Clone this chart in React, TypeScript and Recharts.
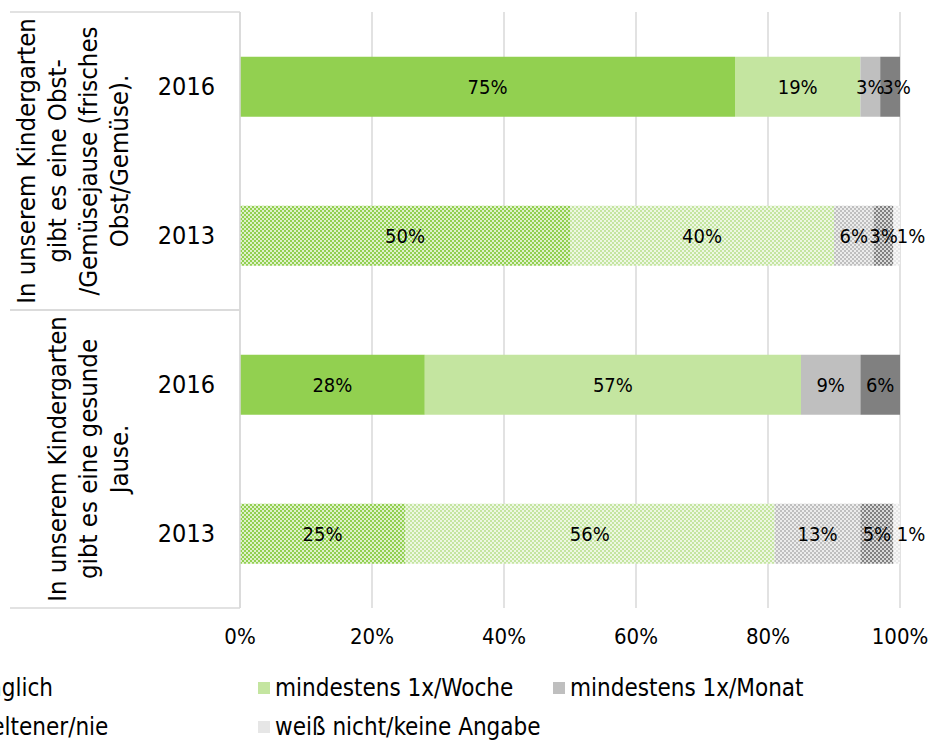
import React from 'react';
import { BarChart, Bar, XAxis, YAxis, CartesianGrid, Legend, LabelList, Cell } from 'recharts';

// rows, top to bottom
const groupIds = ['obst', 'obst', 'jause', 'jause'];
const years = ['2016', '2013', '2016', '2013'];

const groupLines: Record<string, string[]> = {
  obst: ['In unserem Kindergarten', 'gibt es eine Obst-', '/Gemüsejause (frisches', 'Obst/Gemüse).'],
  jause: ['In unserem Kindergarten', 'gibt es eine gesunde', 'Jause.'],
};

const taeglich = [75, 50, 28, 25];
const woche = [19, 40, 57, 56];
const monat = [3, 6, 9, 13];
const seltener = [3, 3, 6, 5];
const weissNicht = [0, 1, 0, 1];

const xTicks = [0, 20, 40, 60, 80, 100];

const series = [
  { key: 'taeglich', name: 'täglich', color: '#92d050', values: taeglich },
  { key: 'woche', name: 'mindestens 1x/Woche', color: '#c4e5a0', values: woche },
  { key: 'monat', name: 'mindestens 1x/Monat', color: '#bfbfbf', values: monat },
  { key: 'seltener', name: 'seltener/nie', color: '#808080', values: seltener },
  { key: 'weiss', name: 'weiß nicht/keine Angabe', color: '#e6e6e6', values: weissNicht },
];

const data = years.map((year, i) => {
  const row: Record<string, string | number> = { id: `${groupIds[i]}|${year}`, year, group: groupIds[i] };
  series.forEach((s) => (row[s.key] = s.values[i]));
  return row;
});

const FONT = "'DejaVu Sans Condensed', 'DejaVu Sans', sans-serif";
const LABEL_SIZE = 20;

function GroupTick(props: any) {
  const { x, y, payload } = props;
  const lines = groupLines[payload.value] || [];
  const half = payload.offset || 149;
  const lastX = x - 31;
  return (
    <g>
      <line x1={x - 140} x2={x + 90} y1={y - half} y2={y - half} stroke="#d9d9d9" strokeWidth={1.5} />
      <line x1={x - 140} x2={x + 90} y1={y + half} y2={y + half} stroke="#d9d9d9" strokeWidth={1.5} />
      {lines.map((line, i) => {
        const cx = lastX - (lines.length - 1 - i) * 31;
        return (
          <text
            key={i}
            x={cx}
            y={y}
            transform={`rotate(-90, ${cx}, ${y})`}
            textAnchor="middle"
            dominantBaseline="central"
            fontSize={25.5}
            fontFamily={FONT}
            fill="#000"
          >
            {line}
          </text>
        );
      })}
    </g>
  );
}

// value label; the last narrow segments of a row are pushed right like the original
function makeLabel(seriesIndex: number) {
  return function SegmentLabel(props: any) {
    const { x, y, width, height, value, index } = props;
    if (!value) return null;
    const row = series.map((s) => s.values[index]);
    const isLast = row.slice(seriesIndex + 1).every((v) => !v);
    const narrow = width < 26;
    let tx = x + width / 2;
    let anchor: 'middle' | 'start' = 'middle';
    if (isLast && narrow && seriesIndex > 1) {
      anchor = 'start';
      tx = seriesIndex === series.length - 1 ? x + width / 2 : x + 2;
    }
    return (
      <text
        x={tx}
        y={y + height / 2}
        textAnchor={anchor}
        dominantBaseline="central"
        fontSize={LABEL_SIZE}
        fontFamily={FONT}
        fill="#000"
      >
        {`${value}%`}
      </text>
    );
  };
}

function LegendContent() {
  const rows = [series.slice(0, 3), series.slice(3)];
  return (
    <div style={{ position: 'relative', width: 928, height: 87, fontFamily: FONT }}>
      {rows.map((row, r) =>
        row.map((s, c) => (
          <div
            key={s.key}
            style={{
              position: 'absolute',
              left: -37 + c * 295,
              top: 20 + r * 39,
              height: 30,
              display: 'flex',
              alignItems: 'center',
              whiteSpace: 'nowrap',
            }}
          >
            <span style={{ width: 12, height: 12, background: s.color, marginRight: 5, display: 'inline-block' }} />
            <span style={{ fontSize: 24, color: '#000' }}>{s.name}</span>
          </div>
        ))
      )}
    </div>
  );
}

export default function App() {
  return (
    <div style={{ position: 'absolute', left: 0, top: 0, width: 928, height: 740, overflow: 'hidden', background: '#fff' }}>
      <svg width={0} height={0} style={{ position: 'absolute' }}>
        <defs>
          {series.map((s) => (
            <pattern key={s.key} id={`pat-${s.key}`} patternUnits="userSpaceOnUse" width={4} height={4}>
              <rect width={4} height={4} fill={s.color} />
              <rect x={0} y={0} width={2} height={2} fill="#fff" opacity={0.7} />
              <rect x={2} y={2} width={2} height={2} fill="#fff" opacity={0.7} />
            </pattern>
          ))}
        </defs>
      </svg>
      <BarChart
        width={928}
        height={740}
        data={data}
        layout="vertical"
        margin={{ top: 12, right: 28, bottom: 0, left: 10 }}
        barCategoryGap="30%"
        style={{ fontFamily: FONT }}
      >
        <CartesianGrid horizontal={false} stroke="#d9d9d9" strokeWidth={1.5} />
        <XAxis
          type="number"
          domain={[0, 100]}
          ticks={xTicks}
          tickFormatter={(v) => `${v}%`}
          axisLine={false}
          tickLine={false}
          tickSize={0}
          tickMargin={20}
          height={45}
          tick={{ fill: '#000', fontSize: 22, fontFamily: FONT }}
        />
        <YAxis
          type="category"
          dataKey="id"
          width={90}
          tickFormatter={(v) => String(v).split('|')[1]}
          axisLine={{ stroke: '#d9d9d9', strokeWidth: 1.5 }}
          tickLine={false}
          tickSize={0}
          tickMargin={25}
          tick={{ fill: '#000', fontSize: 25, fontFamily: FONT }}
        />
        <YAxis
          yAxisId="group"
          type="category"
          dataKey="group"
          allowDuplicatedCategory={false}
          width={140}
          axisLine={false}
          tickLine={false}
          tickSize={0}
          tickMargin={0}
          tick={<GroupTick />}
        />
        <Legend verticalAlign="bottom" wrapperStyle={{ left: 0, bottom: 0, width: 928, height: 87 }} content={<LegendContent />} />
        {series.map((s, si) => (
          <Bar key={s.key} dataKey={s.key} name={s.name} stackId="a" fill={s.color} isAnimationActive={false}>
            {data.map((d, i) => (
              <Cell key={i} fill={d.year === '2013' ? `url(#pat-${s.key})` : s.color} />
            ))}
            <LabelList dataKey={s.key} content={makeLabel(si)} />
          </Bar>
        ))}
      </BarChart>
    </div>
  );
}
